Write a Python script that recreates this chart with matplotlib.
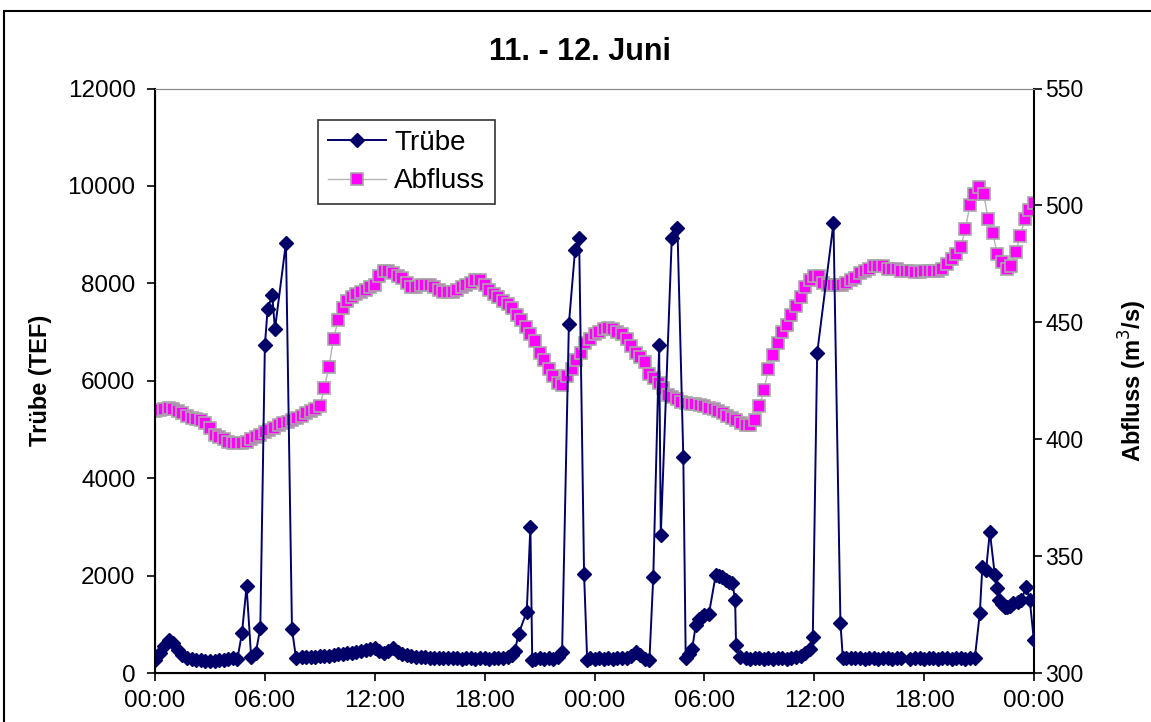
import matplotlib
matplotlib.use("Agg")
import matplotlib.pyplot as plt
from matplotlib.patches import Rectangle

plt.rcParams['font.family'] = ['Liberation Sans', 'DejaVu Sans']

# Zeitachse in Stunden ab 11. Juni 00:00
tick_hours = [0, 6, 12, 18, 24, 30, 36, 42, 48]
tick_labels = ['00:00', '06:00', '12:00', '18:00', '00:00', '06:00', '12:00', '18:00', '00:00']

# Trübe (TEF) - Zeitpunkte und Werte
trube_h = [
    0.00, 0.25, 0.50, 0.75, 1.00, 1.25, 1.50, 1.75, 2.00, 2.25, 2.50, 2.75,
    3.00, 3.25, 3.50, 3.75, 4.00, 4.25, 4.50,
    4.75, 5.00, 5.25, 5.50, 5.75, 6.00, 6.15, 6.40, 6.55, 7.15, 7.48, 7.70,
    8.00, 8.25, 8.50, 8.75, 9.00, 9.25, 9.50, 9.75, 10.00, 10.25, 10.50, 10.75,
    11.00, 11.25, 11.50, 11.75, 12.00, 12.25, 12.50, 12.75, 13.00, 13.25, 13.50, 13.75,
    14.00, 14.25, 14.50, 14.75, 15.00, 15.25, 15.50, 15.75, 16.00, 16.25, 16.50, 16.75,
    17.00, 17.25, 17.50, 17.75, 18.00, 18.25, 18.50, 18.75, 19.00, 19.25, 19.50,
    19.65, 19.85, 20.30, 20.50, 20.60,
    20.75, 21.00, 21.25, 21.50, 21.75, 22.00,
    22.23, 22.60, 22.94, 23.16, 23.43, 23.60,
    23.75, 24.00, 24.25, 24.50, 24.75, 25.00, 25.25, 25.50, 25.75, 26.00, 26.25, 26.50,
    26.75, 27.00,
    27.21, 27.53, 27.62, 28.22, 28.53, 28.85, 28.98, 29.15, 29.33, 29.53, 29.70, 29.85,
    30.00, 30.25, 30.62, 30.80, 30.95, 31.17, 31.35, 31.53, 31.68, 31.73, 31.95,
    32.25, 32.50, 32.75, 33.00, 33.25, 33.50, 33.75, 34.00, 34.25, 34.50, 34.75, 35.00,
    35.25, 35.50, 35.75,
    35.92, 36.16, 37.05, 37.43, 37.56,
    37.75, 38.00, 38.25, 38.50, 38.75, 39.00, 39.25, 39.50, 39.75, 40.00, 40.25, 40.50,
    40.75, 41.25, 41.50, 41.75, 42.00, 42.25, 42.50, 42.75, 43.00, 43.25, 43.50, 43.75,
    44.00, 44.25, 44.50, 44.77,
    45.04, 45.18, 45.38, 45.59, 45.86, 46.00, 46.10, 46.25, 46.40, 46.55, 46.70, 46.86,
    47.10, 47.30, 47.59, 47.77, 47.99,
]
trube_v = [
    270, 410, 560, 680, 620, 470, 360, 310, 290, 270, 260, 250,
    250, 250, 260, 270, 290, 300, 290,
    820, 1780, 330, 410, 920, 6730, 7470, 7760, 7060, 8830, 900, 310,
    330, 320, 330, 330, 340, 340, 350, 370, 380, 390, 410, 420,
    430, 450, 470, 500, 520, 460, 410, 450, 510, 440, 390, 360,
    340, 330, 320, 320, 310, 310, 300, 300, 310, 300, 300, 290,
    300, 300, 290, 300, 300, 290, 300, 300, 310, 320, 360,
    450, 800, 1260, 3000, 270,
    290, 300, 290, 300, 290, 320,
    430, 7160, 8690, 8930, 2040, 270,
    300, 290, 300, 290, 300, 290, 300, 300, 310, 350, 440, 360,
    290, 270,
    1980, 6730, 2830, 8930, 9130, 4430, 310, 400, 490, 980, 1100, 1150,
    1190, 1220, 2010, 2000, 1970, 1900, 1870, 1850, 1500, 570, 320,
    300, 290, 300, 300, 290, 300, 290, 300, 300, 290, 310, 320,
    350, 420, 500,
    745, 6570, 9240, 1030, 310,
    300, 310, 300, 300, 290, 300, 300, 290, 300, 300, 290, 300,
    300, 290, 300, 300, 290, 300, 300, 290, 300, 300, 290, 300,
    300, 290, 300, 310,
    1225, 2180, 2110, 2900, 2010, 1740, 1500, 1420, 1360, 1350, 1380, 1430,
    1450, 1500, 1770, 1500, 680,
]

# Abfluss (m3/s) - Viertelstundenwerte, eine Zeile pro Stunde
abfluss = [
    412, 412.5, 413, 413.5,
    413, 412, 411, 410,
    409, 408.5, 408, 407,
    405, 402, 401, 400,
    399, 398.5, 398.5, 398.5,
    399, 400, 401, 402,
    403, 404, 405, 406,
    407, 407.5, 408, 409,
    410, 411, 412, 413,
    414, 422, 431, 443,
    451, 456, 459, 461,
    462, 463, 464, 465,
    466, 470, 472, 472,
    471, 470, 469, 467,
    465, 465, 466, 466,
    466, 465, 464, 463,
    463, 463, 464, 465,
    466, 467, 468, 468,
    466, 464, 462, 461,
    459, 458, 456, 453,
    451, 448, 445, 442,
    437, 434, 430, 427,
    424, 423, 427, 430,
    434, 437, 441, 443,
    445, 446, 447, 447.5,
    447, 446, 445, 443,
    440, 437, 435, 433,
    428, 426, 424, 422,
    419, 418, 417, 416,
    415.5, 415, 415, 414.5,
    414, 413.5, 413, 412,
    411, 410, 409, 408,
    407, 406, 406, 408,
    414, 421, 430, 436,
    441, 446, 449, 453,
    457, 461, 465, 468,
    470, 470, 467, 466,
    466, 466, 466, 467,
    468, 469, 471, 472,
    473, 474, 474, 474,
    473, 473, 473, 472,
    472, 472, 471.5, 471.5,
    472, 472, 472, 472,
    473, 475, 477, 479,
    482, 490, 500, 505,
    508, 505, 494, 488,
    479, 476, 473, 474,
    480, 487, 494, 498,
    501,
]
abfluss_h = [i * 0.25 for i in range(len(abfluss))]

fig = plt.figure(figsize=(11.51, 7.22), dpi=100)
ax = fig.add_axes([155 / 1151, 49 / 722, 879 / 1151, 584.5 / 722])
ax2 = ax.twinx()

# Abfluss auf der rechten Achse (hinten)
ln2, = ax2.plot(abfluss_h, abfluss, color='#b4b4b4', linewidth=1.0,
                marker='s', markersize=8, markerfacecolor='#ff00ff',
                markeredgecolor='#a8a8a8', markeredgewidth=1.2, label='Abfluss')

# Trübe auf der linken Achse (vorne)
ln1, = ax.plot(trube_h, trube_v, color='#000068', linewidth=1.4,
               marker='D', markersize=7, markerfacecolor='#000068',
               markeredgecolor='#000068', label='Trübe')
ax.set_zorder(ax2.get_zorder() + 1)
ax.patch.set_visible(False)

ax.set_xlim(0, 48)
ax.set_ylim(0, 12000)
ax2.set_ylim(300, 550)
ax.set_xticks(tick_hours)
ax.set_xticklabels(tick_labels)
ax.set_yticks(range(0, 12001, 2000))
ax2.set_yticks(range(300, 551, 50))

ax.tick_params(axis='both', direction='out', length=6, width=1.2, labelsize=17.5, color='black')
ax.tick_params(axis='y', pad=8)
ax.tick_params(axis='x', pad=6)
ax2.tick_params(axis='y', direction='out', length=6, width=1.2, labelsize=16.5, pad=2)

for sp in ['left', 'bottom']:
    ax.spines[sp].set_linewidth(1.5)
ax2.spines['right'].set_linewidth(1.5)
ax.spines['top'].set_color('#888888')
ax2.spines['top'].set_color('#888888')
ax.spines['right'].set_visible(False)

ax.set_ylabel('Trübe (TEF)', fontsize=17, fontweight='bold')
ax.yaxis.set_label_coords(-0.117, 0.5)
ax2.set_ylabel('Abfluss (m$^3$/s)', fontsize=17, fontweight='bold')
ax2.yaxis.set_label_coords(1.094, 0.5)

fig.text(580 / 1151, 1 - 52 / 722, '11. - 12. Juni', fontsize=22, fontweight='bold',
         ha='center', va='center')

leg = ax.legend([ln1, ln2], ['Trübe', 'Abfluss'], loc='upper left',
                bbox_to_anchor=(0.1854, 0.946), fontsize=20, frameon=True,
                fancybox=False, edgecolor='black', handlelength=2.1,
                borderpad=0.35, labelspacing=0.45, handletextpad=0.3,
                borderaxespad=0)
leg.get_frame().set_linewidth(1.2)

# Rahmen um das ganze Diagramm
fig.add_artist(Rectangle((4 / 1151, -0.1), 1.2, 1.1 - 11 / 722, transform=fig.transFigure,
                         fill=False, edgecolor='black', linewidth=1.5))

fig.savefig('out.png', dpi=100)
